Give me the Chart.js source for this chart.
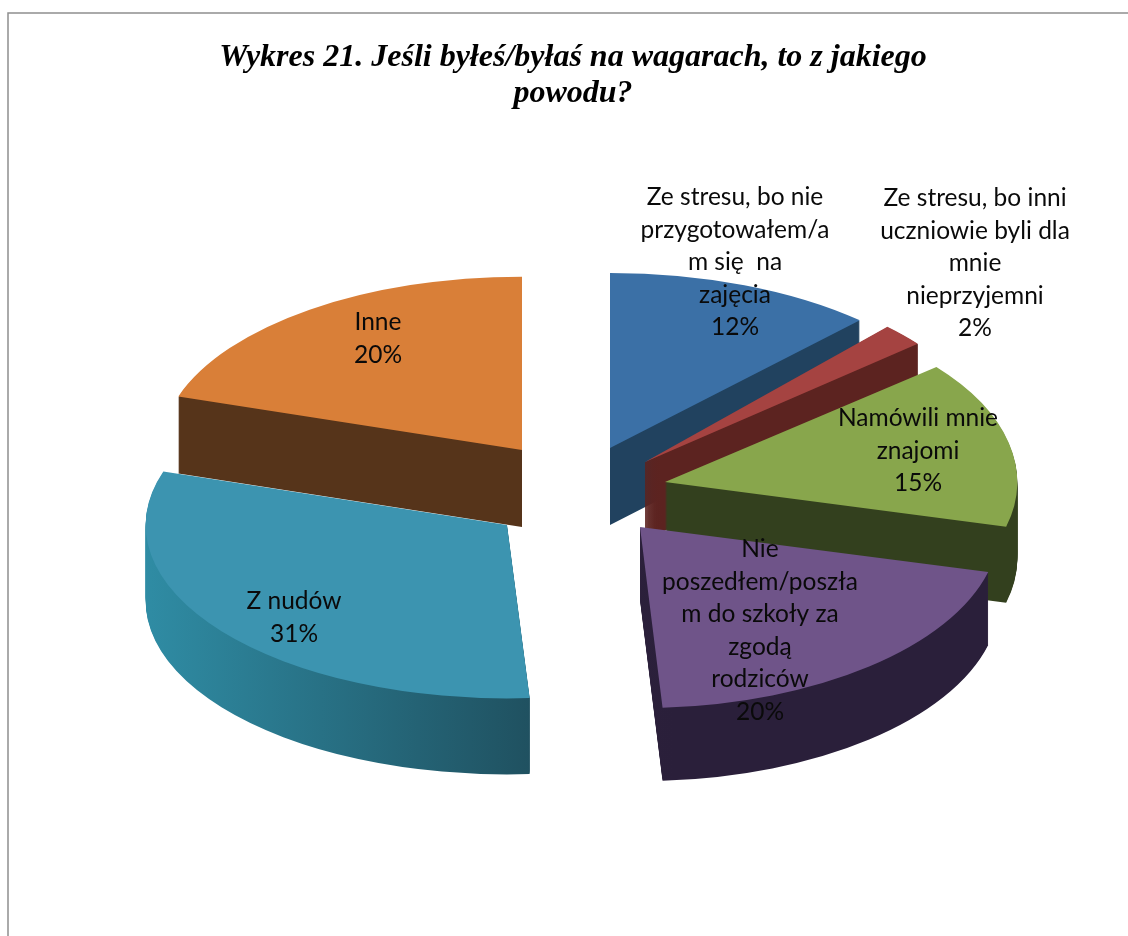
<!DOCTYPE html>
<html lang="pl"><head><meta charset="utf-8">
<style>html,body{margin:0;background:#fff}canvas{display:block}</style>
<script src="https://cdn.jsdelivr.net/npm/chart.js@4"></script></head>
<body><canvas id="c" width="1128" height="936"></canvas>
<script>
const titleLines = ["Wykres 21. Jeśli byłeś/byłaś na wagarach, to z jakiego", "powodu?"];
const categories = ["Ze stresu, bo nie przygotowałem/am się na zajęcia", "Ze stresu, bo inni uczniowie byli dla mnie nieprzyjemni", "Namówili mnie znajomi", "Nie poszedłem/poszłam do szkoły za zgodą rodziców", "Z nudów", "Inne"];
const values = [12, 2, 15, 20, 31, 20];
const labelLines = [
  ["Ze stresu, bo nie", "przygotowałem/a", "m się  na", "zajęcia"],
  ["Ze stresu, bo inni", "uczniowie byli dla", "mnie", "nieprzyjemni"],
  ["Namówili mnie", "znajomi"],
  ["Nie", "poszedłem/poszła", "m do szkoły za", "zgodą", "rodziców"],
  ["Z nudów"],
  ["Inne"]
];
const labelX = [735, 975, 918, 760, 294, 378];
const labelY = [197, 198, 418, 549, 601, 322];
const topColors = ["#3b70a6", "#a54341", "#88a64c", "#6f5489", "#3c94b0", "#d97f38"];
const wallColors = [["#21425f","#21425f"], ["#5c2320","#5c2320"], ["#33401e","#33401e"], ["#352740","#2a1f3a"], ["#2f8ca4","#1f4f5e"], ["#56341a","#56341a"]];
const shiftX = [37, 72, 92, 67, -66, -51];
const shiftY = [-39, -25, -5, 40, 38, -37];
const scaleX = [1, 0.97, 0.965, 0.985, 0.99, 0.99];
const scaleY = [1.01, 1.07, 1.04, 1.045, 1, 1];
const depths = [77, 77, 76, 73, 76, 77];
const wallEdges = [0, 1, 0, 0, 0, 0];
const drawOrder = [5, 0, 1, 2, 3, 4];
const squash = 0.475, lineStep = 32.6;

function place(ctx, el, i, drop) {
  ctx.translate(el.x + shiftX[i], el.y + shiftY[i] + drop);
  ctx.scale(scaleX[i], squash * scaleY[i]);
  ctx.translate(-el.x, -el.y);
}
function paint(ctx, el, i, drop, fill, edge) {
  const saved = el.options;
  el.options = Object.assign(Object.create(saved), {backgroundColor: fill, borderColor: fill, borderWidth: edge});
  ctx.save();
  place(ctx, el, i, drop);
  el.draw(ctx);
  ctx.restore();
  el.options = saved;
}
const pie3d = {
  id: "pie3d",
  beforeDraw(chart) {
    const ctx = chart.ctx;
    ctx.save();
    ctx.fillStyle = "#fff"; ctx.fillRect(0, 0, 1128, 936);
    ctx.strokeStyle = "#8f8f8f"; ctx.lineWidth = 1.5;
    ctx.strokeRect(8, 13, 1200, 1000);
    ctx.restore();
  },
  beforeDatasetsDraw(chart) {
    const ctx = chart.ctx, arcs = chart.getDatasetMeta(0).data;
    drawOrder.forEach(i => {
      const el = arcs[i];
      const g = ctx.createLinearGradient(el.x - el.outerRadius, 0, el.x + el.outerRadius * 0.1, 0);
      g.addColorStop(0, wallColors[i][0]);
      g.addColorStop(1, wallColors[i][1]);
      for (let d = depths[i]; d >= 1; d--) paint(ctx, el, i, d, g, wallEdges[i]);
      paint(ctx, el, i, 0, topColors[i], 0);
    });
    return false;
  },
  afterDraw(chart) {
    const ctx = chart.ctx;
    ctx.save();
    ctx.font = '24.5px Lato';
    ctx.fillStyle = "#0a0a0a";
    ctx.textAlign = "center"; ctx.textBaseline = "middle";
    labelLines.forEach((lines, i) => {
      const all = lines.concat(values[i] + "%");
      all.forEach((t, k) => ctx.fillText(t, labelX[i], labelY[i] + k * lineStep));
    });
    ctx.restore();
  }
};
new Chart(document.getElementById("c"), {
  type: "pie",
  data: {labels: categories, datasets: [{data: values, backgroundColor: topColors, borderWidth: 0, radius: 365}]},
  plugins: [pie3d],
  options: {
    responsive: false, animation: false, events: [],
    layout: {padding: {left: 18, right: 0, top: 0, bottom: 74}},
    plugins: {
      legend: {display: false}, tooltip: {enabled: false},
      title: {display: true, text: titleLines, color: "#000", padding: {top: 40, bottom: 0},
        font: {family: '"Liberation Serif"', size: 32, style: "italic", weight: "bold", lineHeight: 1.125}}
    }
  }
});
</script></body></html>
